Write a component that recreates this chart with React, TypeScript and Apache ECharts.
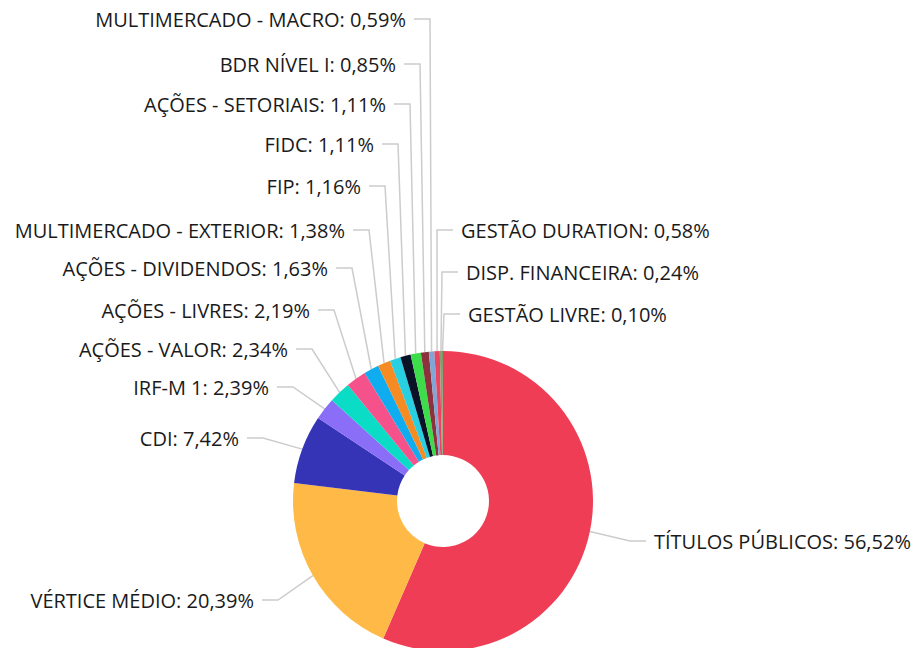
import React, { useEffect, useRef } from 'react';
import * as echarts from 'echarts';

// ---- data ----
const categories = [
  'TÍTULOS PÚBLICOS',
  'VÉRTICE MÉDIO',
  'CDI',
  'IRF-M 1',
  'AÇÕES - VALOR',
  'AÇÕES - LIVRES',
  'AÇÕES - DIVIDENDOS',
  'MULTIMERCADO - EXTERIOR',
  'FIP',
  'FIDC',
  'AÇÕES - SETORIAIS',
  'BDR NÍVEL I',
  'MULTIMERCADO - MACRO',
  'GESTÃO DURATION',
  'DISP. FINANCEIRA',
  'GESTÃO LIVRE',
];
const values = [56.52, 20.39, 7.42, 2.39, 2.34, 2.19, 1.63, 1.38, 1.16, 1.11, 1.11, 0.85, 0.59, 0.58, 0.24, 0.1];

// ---- styles / layout ----
const colors = [
  '#ef3d55', '#ffb946', '#3533b6', '#8a6ef8', '#0bdcc5', '#f5528c', '#0fadf0', '#f68b24',
  '#27cfe0', '#0b1228', '#3ddc4a', '#8b323c', '#7fa6d6', '#e94460', '#8e9c6a', '#6f8f5f',
];
const LABEL_SIDE = ['right', 'left', 'left', 'left', 'left', 'left', 'left', 'left', 'left', 'left', 'left', 'left', 'left', 'right', 'right', 'right'];
const LABEL_Y = [541, 600, 438, 387, 349, 310, 268, 230, 186, 144, 104, 64, 19, 230, 272, 314];
const ELBOW_X = [630, 278, 263, 293, 312, 334, 352, 369, 385, 398, 410, 420, 430, 437, 442, 444];

export default function App() {
  const ref = useRef<HTMLDivElement>(null);
  useEffect(() => {
    document.body.style.margin = '0';
    const chart = echarts.init(ref.current!, null, { renderer: 'svg' });
    chart.setOption({
      animation: false,
      series: [
        {
          type: 'pie',
          center: [443, 501],
          radius: [46, 150],
          startAngle: 90,
          clockwise: true,
          avoidLabelOverlap: false,
          emphasis: { disabled: true },
          data: categories.map((n, i) => ({ name: n, value: values[i], itemStyle: { color: colors[i] } })),
          label: {
            show: true,
            position: 'outside',
            formatter: (p: any) => `${p.name}: ${Number(p.value).toFixed(2).replace('.', ',')}%`,
            fontFamily: 'Open Sans',
            fontSize: 20,
            color: '#1a1a1a',
            width: 600,
            overflow: 'none',
          },
          labelLine: { show: true, length: 10, length2: 10, lineStyle: { color: '#cccccc', width: 1.5 } },
          labelLayout: (params: any) => {
            const i = params.dataIndex;
            const right = LABEL_SIDE[i] === 'right';
            const ex = ELBOW_X[i];
            const y = LABEL_Y[i];
            const p0 = params.labelLinePoints && params.labelLinePoints[0] ? params.labelLinePoints[0] : [ex, y];
            const hx = right ? ex + 16 : ex - 16;
            const tx = right ? hx + 8 : hx - 8;
            return {
              x: tx,
              y,
              align: right ? 'left' : 'right',
              verticalAlign: 'middle',
              labelLinePoints: [p0, [ex, y], [hx, y]],
            };
          },
        },
      ],
    });
    return () => chart.dispose();
  }, []);
  return <div ref={ref} style={{ width: 914, height: 648 }} />;
}
